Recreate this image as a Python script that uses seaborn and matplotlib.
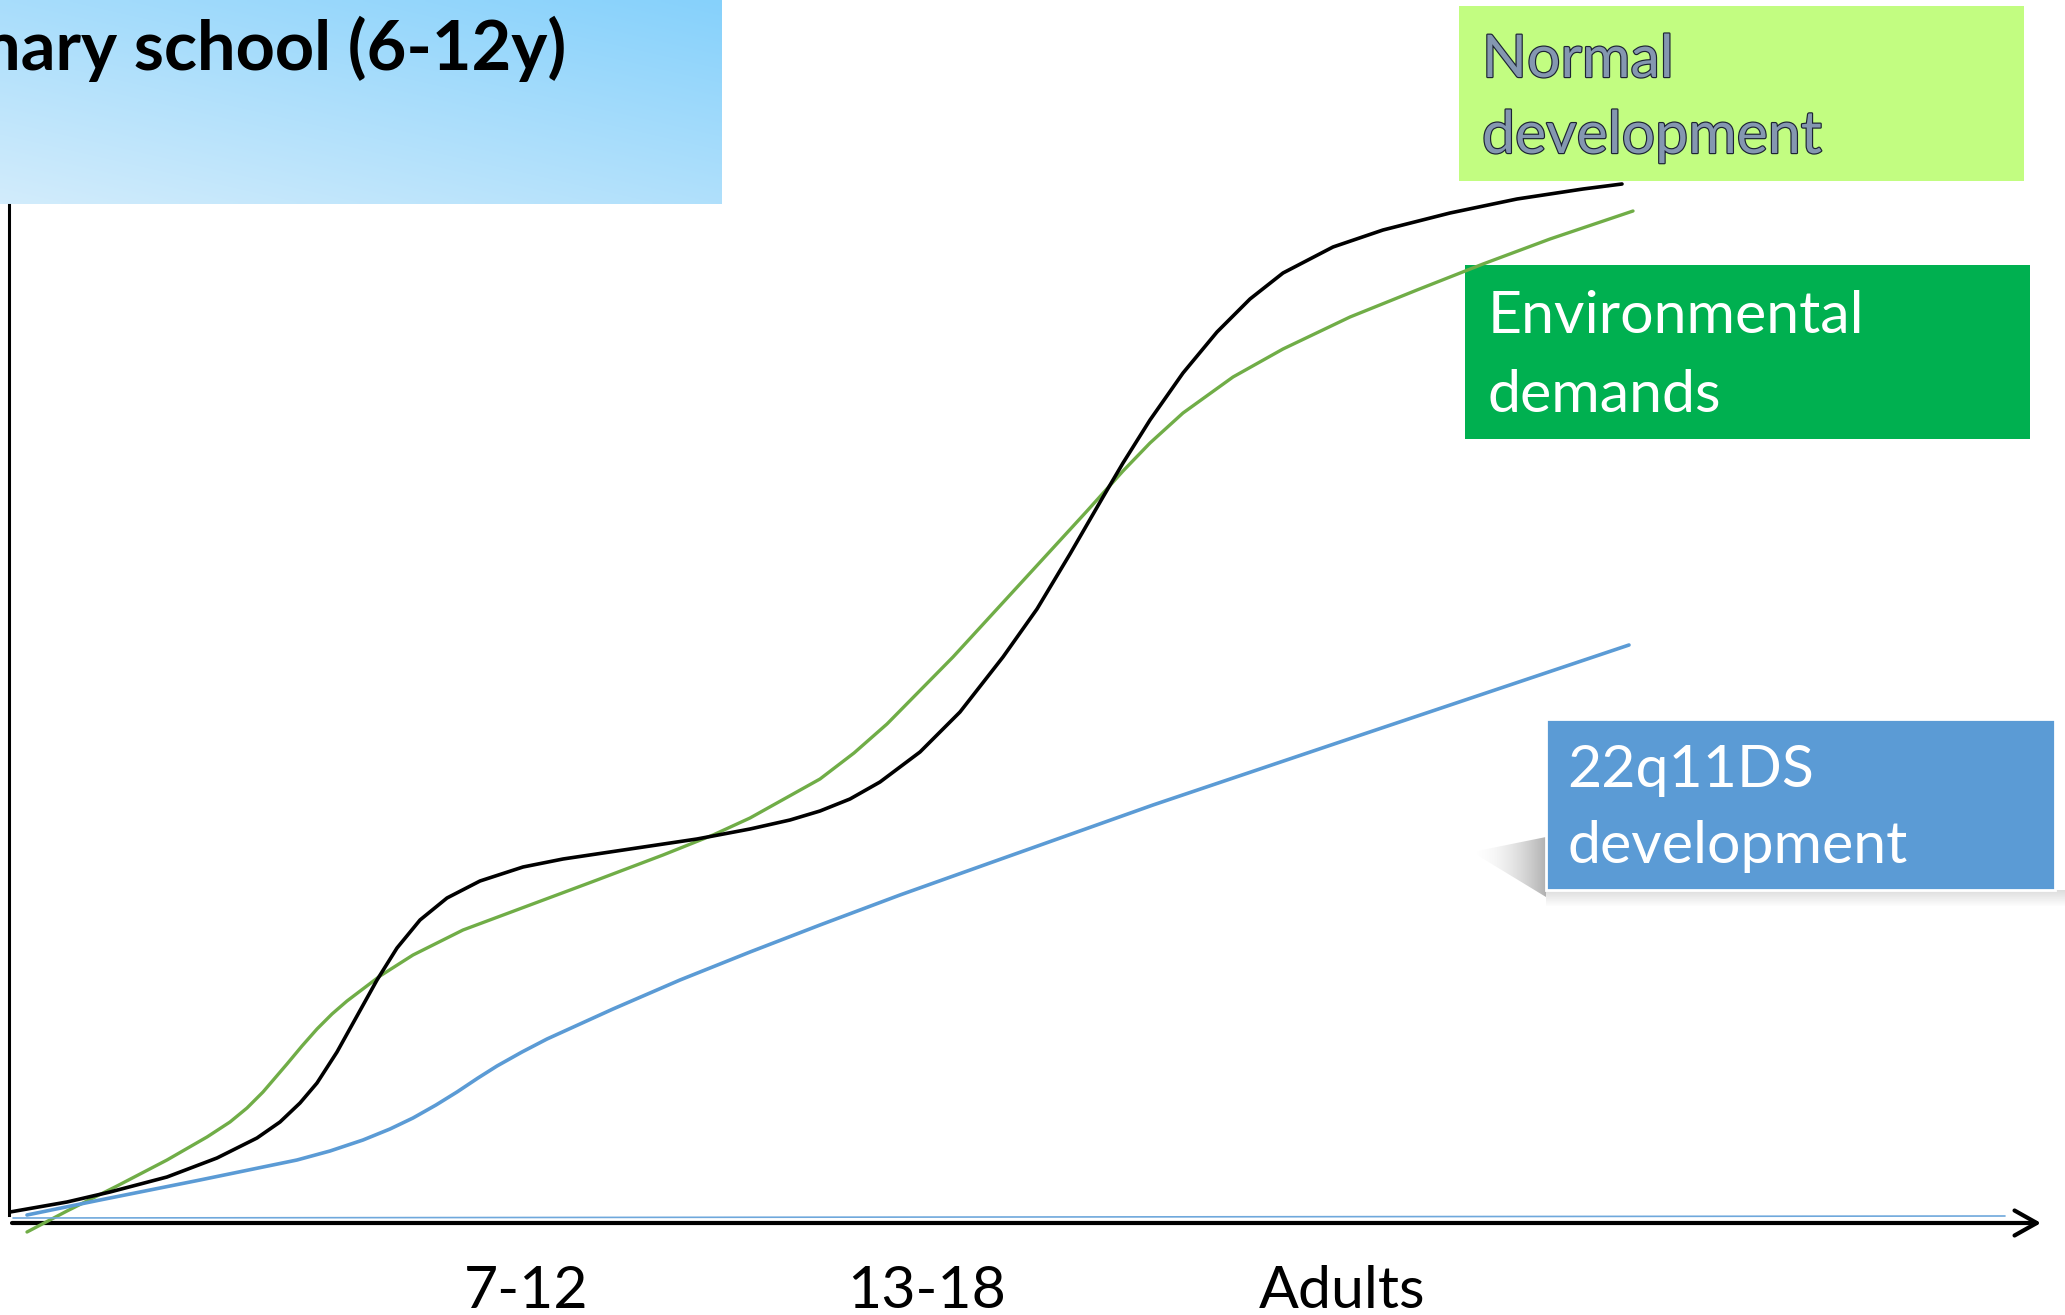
import numpy as np
import matplotlib
matplotlib.use("Agg")
import matplotlib.pyplot as plt
import matplotlib.patheffects as pe
from matplotlib.patches import Rectangle, Polygon
from matplotlib.colors import to_rgb
import seaborn as sns

# ---- chart content -------------------------------------------------------
title_text = "Primary school (6-12y)"
stage_labels = ["7-12", "13-18", "Adults"]
stage_positions = [25.8, 45.85, 66.6]

normal_label = "Normal\ndevelopment"
demand_label = "Environmental\ndemands"
ds_label = "22q11DS\ndevelopment"

# developmental level (arbitrary units) along the age axis
normal_x = [0.0, 2.85, 5.0, 7.85, 10.35, 12.35, 13.5, 14.5, 15.35, 16.35,
            17.35, 18.35, 19.35, 20.5, 21.85, 23.5, 25.65, 27.65, 31.0, 34.35,
            37.0, 39.0, 40.5, 42.0, 43.5, 45.5, 47.5, 49.65, 51.35, 53.0,
            54.65, 55.65, 57.0, 58.65, 60.35, 62.0, 63.65, 66.15, 68.65, 72.0,
            75.35, 78.65, 80.6]
normal_y = [1.1, 2.1, 3.1, 4.6, 6.5, 8.5, 10.1, 12.0, 14.0, 17.1,
            20.7, 24.3, 27.5, 30.3, 32.5, 34.2, 35.6, 36.4, 37.4, 38.4,
            39.4, 40.3, 41.2, 42.4, 44.1, 47.1, 51.1, 56.6, 61.4, 66.9,
            72.6, 76.0, 80.3, 85.0, 89.1, 92.4, 95.0, 97.6, 99.3, 101.0,
            102.4, 103.4, 103.9]

demand_x = [0.85, 2.85, 5.35, 7.85, 9.85, 11.0, 11.85, 12.65, 13.85, 14.6,
            15.35, 16.1, 16.85, 18.5, 20.15, 22.65, 26.0, 29.35, 32.65, 35.15,
            37.0, 40.5, 42.2, 43.85, 47.15, 50.5, 53.85, 55.65, 57.0, 58.65,
            61.15, 63.65, 67.0, 70.35, 73.65, 77.0, 81.15]
demand_y = [-0.9, 1.2, 3.7, 6.3, 8.6, 10.1, 11.5, 13.1, 15.9, 17.7,
            19.4, 20.9, 22.2, 24.7, 26.8, 29.3, 31.8, 34.3, 36.8, 38.8,
            40.5, 44.4, 47.0, 49.9, 56.6, 63.9, 71.2, 75.2, 78.0, 81.0,
            84.6, 87.4, 90.6, 93.3, 95.9, 98.4, 101.2]

ds_x = [0.85, 4.5, 9.5, 14.35, 16.0, 17.65, 19.0, 20.15, 21.3, 22.35,
        23.4, 24.35, 25.6, 26.85, 28.5, 30.15, 33.5, 37.0, 40.5, 44.5,
        48.85, 57.15, 66.5, 80.95]
ds_y = [0.8, 2.3, 4.3, 6.3, 7.2, 8.3, 9.4, 10.5, 11.8, 13.1,
        14.5, 15.7, 17.1, 18.4, 19.9, 21.4, 24.3, 27.1, 29.8, 32.8,
        35.9, 41.8, 48.1, 57.8]

baseline_x = [0.15, 99.75]
baseline_y = [0.5, 0.7]

# ---- figure ----------------------------------------------------------------
sns.set_theme(style="white")
plt.rcParams["font.family"] = ["Lato", "DejaVu Sans"]

W, H, DPI = 2065, 1315, 100
fig = plt.figure(figsize=(W / DPI, H / DPI), dpi=DPI)
fig.patch.set_facecolor("white")
ax = fig.add_axes([0, 0, 1, 1])
ax.set_facecolor("white")
renderer = fig.canvas.get_renderer()


def fit_size(s, target_px, **kw):
    t = fig.text(0, 0, s, fontsize=100, **kw)
    w = t.get_window_extent(renderer).width
    t.remove()
    return 100 * target_px / w


label_size = fit_size("development", 340)
title_size = fit_size("ary school (6-12y)", 546, weight="bold")

# title banner with a diagonal sky-blue gradient
light = np.array(to_rgb("#d2ecfc"))
dark = np.array(to_rgb("#86d1fb"))
gx = np.linspace(0, 1, 200)[None, :]
gy = np.linspace(1, 0, 60)[:, None]
tt = np.clip(0.45 * gx + 0.55 * gy, 0, 1)
banner = light + (dark - light) * tt[..., None]
ax.imshow(banner, extent=(-0.5, 35.6, 101.9, 122.3), origin="upper",
          aspect="auto", interpolation="bilinear", zorder=1)
ax.text(27.8, 115.3, title_text, ha="right", va="baseline",
        fontsize=title_size, weight="bold", color="black", zorder=3)

# curves
sns.lineplot(x=demand_x, y=demand_y, color="#70ad47", linewidth=2.4,
             estimator=None, sort=False, ax=ax, zorder=4)
sns.lineplot(x=normal_x, y=normal_y, color="black", linewidth=2.6,
             estimator=None, sort=False, ax=ax, zorder=5)
sns.lineplot(x=ds_x, y=ds_y, color="#5b9bd5", linewidth=2.6,
             estimator=None, sort=False, ax=ax, zorder=4)
for ln in ax.get_lines():
    ln.set_solid_joinstyle("round")
    ln.set_antialiased(True)

# x axis with arrow head
ax.annotate("", xy=(101.55, 0), xytext=(0.1, 0),
            arrowprops=dict(arrowstyle="->,head_length=0.8,head_width=0.45",
                            lw=3.0, color="black", shrinkA=0, shrinkB=0,
                            mutation_scale=20), zorder=3)
sns.lineplot(x=baseline_x, y=baseline_y, color="#6fa8dc", linewidth=1.2,
             estimator=None, sort=False, ax=ax, zorder=6)

# label boxes
ax.add_patch(Rectangle((72.45, 104.2), 28.25, 17.5, facecolor="#c2fd81",
                       edgecolor="none", zorder=2))
for line, base in zip(normal_label.split("\n"), [114.6, 107.0]):
    ax.text(73.6, base, line, fontsize=label_size, color="#8497b0",
            ha="left", va="baseline", zorder=6,
            path_effects=[pe.withStroke(linewidth=1.7, foreground="#1c2333")])

ax.add_patch(Rectangle((72.75, 78.4), 28.25, 17.4, facecolor="#00b050",
                       edgecolor="none", zorder=2))
for line, base in zip(demand_label.split("\n"), [89.0, 81.1]):
    ax.text(73.9, base, line, fontsize=label_size, color="white",
            ha="left", va="baseline", zorder=6)

# soft perspective shadow behind the 22q11DS box
shadow_poly = Polygon([(73.1, 37.1), (76.8, 38.6), (76.8, 32.6)], closed=True,
                      facecolor="none", edgecolor="none")
ax.add_patch(shadow_poly)
sx = np.linspace(0, 1, 120)[None, :]
sh = np.zeros((30, 120, 4))
sh[..., :3] = 0.45
sh[..., 3] = 0.55 * sx ** 1.8
im = ax.imshow(sh, extent=(73.1, 76.8, 32.6, 38.6), aspect="auto",
               interpolation="bilinear", zorder=1.5)
im.set_clip_path(shadow_poly)
sb = np.zeros((20, 10, 4))
sb[..., :3] = 0.55
sb[..., 3] = np.linspace(0.3, 0.0, 20)[:, None]
ax.imshow(sb, extent=(76.8, 102.75, 31.6, 33.3), origin="upper",
          aspect="auto", interpolation="bilinear", zorder=1.5)

ax.add_patch(Rectangle((76.8, 33.3), 25.45, 17.1, facecolor="#5b9bd5",
                       edgecolor="white", linewidth=2, zorder=2))
for line, base in zip(ds_label.split("\n"), [43.6, 36.0]):
    ax.text(77.85, base, line, fontsize=label_size, color="white",
            ha="left", va="baseline", zorder=6)

# axes styling: y axis as a plain line, stage labels under the x axis
for side in ["top", "right", "bottom"]:
    ax.spines[side].set_visible(False)
ax.spines["bottom"].set_position(("data", 0))
ax.spines["left"].set_position(("data", -0.05))
ax.spines["left"].set_bounds(0.8, 101.8)
ax.spines["left"].set_linewidth(2.2)
ax.spines["left"].set_color("black")

ax.set_xticks(stage_positions, labels=stage_labels)
ax.tick_params(axis="x", length=0, pad=30, labelsize=label_size,
               colors="black")
ax.set_yticks([])
ax.grid(False)
ax.set_xlabel("")
ax.set_ylabel("")
ax.set_xlim(-0.5, 102.75)
ax.set_ylim(-9.2, 122.3)

fig.savefig("out.png", dpi=DPI, facecolor="white")
